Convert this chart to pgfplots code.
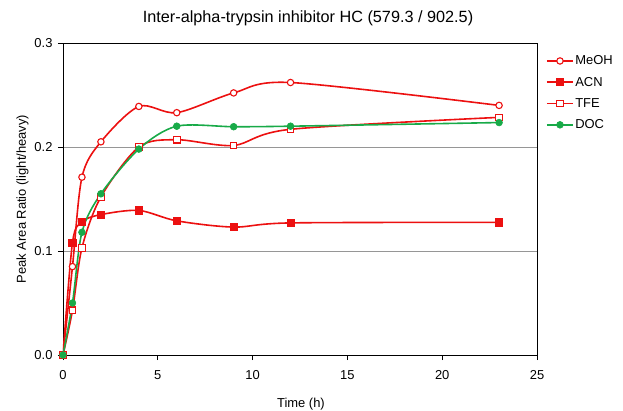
\documentclass[border=0pt]{standalone}
\usepackage{pgfplots}
\pgfplotsset{compat=1.18}
\usepackage{fontspec}
\setmainfont{Liberation Sans}
\definecolor{serred}{RGB}{236,16,16}
\definecolor{sergreen}{RGB}{24,170,72}
\definecolor{gridgray}{RGB}{150,150,150}
\begin{document}
\begin{tikzpicture}
\useasboundingbox (-63bp,-56bp) rectangle (560bp,355bp);
\begin{axis}[
  scale only axis, width=474bp, height=312bp,
  xmin=0, xmax=25, ymin=0, ymax=0.3,
  xtick={0,5,...,25}, ytick={0,0.1,0.2,0.3},
  xtick pos=bottom, ytick pos=left,
  tick align=outside, major tick length=5bp,
  tick style={black, line width=0.8bp},
  axis line style={black, line width=0.8bp},
  ymajorgrids, grid style={gridgray, line width=0.8bp},
  /pgf/number format/assume math mode=true,
  y tick label style={xshift=-2bp, /pgf/number format/.cd, fixed, fixed zerofill, precision=1},
  x tick label style={yshift=-7bp},
  tick label style={font=\fontsize{13}{15}\selectfont},
  scaled y ticks=false,
  title={Inter-alpha-trypsin inhibitor HC (579.3 / 902.5)},
  title style={font=\fontsize{16.3}{19}\selectfont, at={(axis description cs:0.517,1.06)}, anchor=center},
  xlabel={Time (h)},
  xlabel style={font=\fontsize{13}{15}\selectfont, at={(axis description cs:0.502,-0.158)}, anchor=center},
  ylabel={Peak Area Ratio (light/heavy)},
  ylabel style={font=\fontsize{13}{15}\selectfont, at={(axis description cs:-0.0854,0.5)}, anchor=center},
  legend style={draw=none, fill=none, at={(axis description cs:1,1)}, anchor=north west,
    xshift=6bp, yshift=-9bp, font=\fontsize{13}{15}\selectfont, row sep=7.8bp,
    nodes={inner sep=1.5bp}},
  legend cell align=left,
  legend image code/.code={\draw[mark repeat=2,mark phase=2] plot coordinates {(0bp,0bp) (13bp,0bp) (26bp,0bp)};},
  every axis plot/.append style={line width=1.6bp, smooth},
]
\addplot[serred, mark=*, mark size=3.2bp, mark options={fill=white, line width=1.1bp}] coordinates {
  (0,0) (0.5,0.085) (1,0.171) (2,0.205) (4,0.239) (6,0.233) (9,0.252) (12,0.262) (23,0.240)};
\addlegendentry{MeOH}
\addplot[serred, mark=square*, mark size=3.6bp, mark options={fill=serred, line width=0.8bp}] coordinates {
  (0,0) (0.5,0.108) (1,0.128) (2,0.135) (4,0.139) (6,0.129) (9,0.123) (12,0.127) (23,0.1275)};
\addlegendentry{ACN}
\addplot[serred, mark=square*, mark size=3.3bp, mark options={fill=white, line width=1.1bp}] coordinates {
  (0,0) (0.5,0.043) (1,0.103) (2,0.152) (4,0.200) (6,0.207) (9,0.2015) (12,0.217) (23,0.2285)};
\addlegendentry{TFE}
\addplot[sergreen, mark=*, mark size=3.4bp, mark options={fill=sergreen, line width=0.6bp}] coordinates {
  (0,0) (0.5,0.050) (1,0.118) (2,0.155) (4,0.198) (6,0.220) (9,0.2195) (12,0.220) (23,0.2235)};
\addlegendentry{DOC}
\end{axis}
\end{tikzpicture}
\end{document}
